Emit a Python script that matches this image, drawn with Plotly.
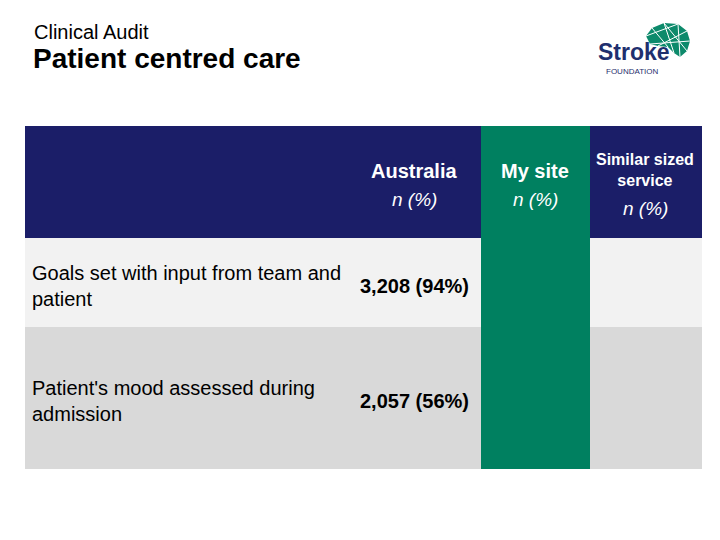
import plotly.graph_objects as go

# ---- data ----
kicker = "Clinical Audit"
title = "Patient centred care"
col_headers = ["Australia", "My site", "Similar sized<br>service"]
col_sub = ["n (%)", "n (%)", "n (%)"]
row_labels = ["Goals set with input from team and<br>patient",
              "Patient's mood assessed during<br>admission"]
australia = ["3,208 (94%)", "2,057 (56%)"]
my_site = ["", ""]
similar = ["", ""]

# ---- layout constants ----
W, H = 720, 540
OFF = 8  # page body margin compensation
NAVY = "#1b1e68"
GREEN = "#008060"
FONT = "Liberation Sans, Arial, sans-serif"
tbl_x0, tbl_x1 = 25, 702
col_edges = [25, 350, 481, 590, 702]
hdr_y = (126, 238)
row_y = [(238, 327), (327, 469)]
row_fill = ["#f2f2f2", "#d9d9d9"]

shapes = []
ann = []

# header band
shapes.append(dict(type="rect", xref="x", yref="y", x0=tbl_x0, x1=tbl_x1,
                   y0=hdr_y[0], y1=hdr_y[1], fillcolor=NAVY, line_width=0, layer="below"))
# rows
for (y0, y1), f in zip(row_y, row_fill):
    shapes.append(dict(type="rect", xref="x", yref="y", x0=tbl_x0, x1=tbl_x1,
                       y0=y0, y1=y1, fillcolor=f, line_width=0, layer="below"))
# my site column
shapes.append(dict(type="rect", xref="x", yref="y", x0=col_edges[2], x1=col_edges[3],
                   y0=hdr_y[0], y1=row_y[-1][1], fillcolor=GREEN, line_width=0, layer="below"))

# title texts
ann.append(dict(x=32, y=32, text=kicker, showarrow=False, xanchor="left", yanchor="middle",
                font=dict(family=FONT, size=20, color="#000000")))
ann.append(dict(x=31, y=58, text="<b>" + title + "</b>", showarrow=False, xanchor="left",
                yanchor="middle", font=dict(family=FONT, size=28, color="#000000")))

# headers
hdr_pos = [(414, 171, 199, 20), (535, 171, 199, 20), (645, 170, 208, 16)]
for (cx, cy, sy, fs), h, s in zip(hdr_pos, col_headers, col_sub):
    ann.append(dict(x=cx, y=cy, text="<b>" + h + "</b>", showarrow=False, xanchor="center",
                    yanchor="middle", font=dict(family=FONT, size=fs, color="white")))
    ann.append(dict(x=cx, y=sy, text="<i>" + s + "</i>", showarrow=False, xanchor="center",
                    yanchor="middle", font=dict(family=FONT, size=19, color="white")))

# rows
row_centres = [286, 401]
for yc, lab, a in zip(row_centres, row_labels, australia):
    ann.append(dict(x=30, y=yc, text=lab, showarrow=False, xanchor="left", yanchor="middle",
                    align="left", font=dict(family=FONT, size=20, color="#000000")))
    ann.append(dict(x=358, y=yc, text="<b>" + a + "</b>", showarrow=False, xanchor="left",
                    yanchor="middle", font=dict(family=FONT, size=20, color="#000000")))

# logo
LOGO_G = "#0d8a6b"
shapes.append(dict(type="path", xref="x", yref="y",
                   path="M 646 36 L 652 28 L 664 23 L 678 24 L 687 31 L 690 41 L 687 51 L 680 57 L 674 53 L 668 47 L 658 46 L 650 44 Z",
                   fillcolor=LOGO_G, line_width=0))
for (x0, y0, x1, y1) in [(652, 28, 668, 47), (664, 23, 674, 53), (678, 24, 680, 57), (687, 31, 658, 46),
                         (690, 41, 650, 44), (646, 36, 678, 24), (664, 23, 687, 51)]:
    shapes.append(dict(type="line", xref="x", yref="y", x0=x0, y0=y0, x1=x1, y1=y1,
                       line=dict(color="white", width=1)))
ann.append(dict(x=597, y=52, text="<b>Stroke</b>", showarrow=False, xanchor="left", yanchor="middle",
                borderpad=0, font=dict(family=FONT, size=23, color="#1f2f6e")))
ann.append(dict(x=605, y=71, text="FOUNDATION", showarrow=False, xanchor="left", yanchor="middle",
                borderpad=0, font=dict(family=FONT, size=8, color="#1f2f6e")))

fig = go.Figure()
fig.update_layout(
    width=W, height=H, margin=dict(l=0, r=0, t=0, b=0),
    paper_bgcolor="white", plot_bgcolor="white",
    xaxis=dict(range=[OFF, W + OFF], visible=False, fixedrange=True),
    yaxis=dict(range=[H + OFF, OFF], visible=False, fixedrange=True),
    shapes=shapes, annotations=ann, showlegend=False,
)
fig.write_html("out.html")
